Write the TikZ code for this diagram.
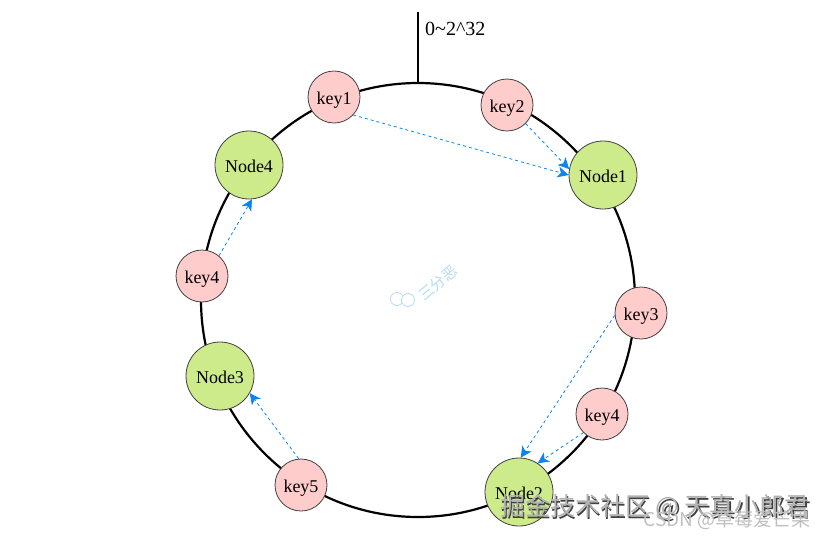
\documentclass[tikz,border=0pt]{standalone}
\usepackage{fontspec}
\setmainfont{Liberation Serif}
\newfontfamily\cjk{Noto Sans CJK SC}
\usetikzlibrary{arrows.meta}
\definecolor{keyred}{HTML}{FFCCCC}
\definecolor{nodegreen}{HTML}{CDEB8B}
\definecolor{linkblue}{HTML}{0A84F0}
\definecolor{markblue}{HTML}{B4DAF2}
\begin{document}
\begin{tikzpicture}[x=1pt, y=-1pt, ring/.style = {draw, circle, line width=2.2pt, inner sep=0pt, minimum size=434pt},
		key/.style = {draw=black!75, line width=0.8pt, circle, fill=keyred, inner sep=0pt, minimum size=52pt, text height=16pt, text depth=2pt, font=\fontsize{18}{18}\selectfont},
		server/.style = {draw=black!75, line width=0.8pt, circle, fill=nodegreen, inner sep=0pt, minimum size=68pt, text height=16pt, text depth=2pt, font=\fontsize{18}{18}\selectfont},
		link/.style = {draw=linkblue, dashed, thick, -{Stealth[length=11pt,width=11pt,inset=3pt]}},
		stamp/.style = {font=\cjk\fontsize{25}{25}\selectfont}]
		
		\useasboundingbox (0,0) rectangle (828,539);
		
		\node[ring] (ring) at (418,300) {};
		\coordinate (tick) at (418,12);
		\draw[line width=2.2pt] (tick) -- (ring.north);
		\node[anchor=west, inner sep=0pt, font=\fontsize{20}{20}\selectfont] (range) at (425,29) {0\textasciitilde2\textasciicircum32};
		
		\node[key] (key1) at (334,97) {key1};
		\node[key] (key2) at (507,105) {key2};
		\node[key] (key3) at (641,313) {key3};
		\node[key] (key4b) at (602,414) {key4};
		\node[key] (key5) at (301,485) {key5};
		\node[key] (key4) at (202,276) {key4};
		
		\node[server] (node1) at (603,175) {Node1};
		\node[server] (node2) at (519,492) {Node2};
		\node[server] (node3) at (220,376) {Node3};
		\node[server] (node4) at (249,165) {Node4};
		
		\draw[link] (key1.-43) -- (node1.180);
		\draw[link] (key2.-45) -- (node1.170);
		\draw[link] (key3.185) -- (node2.87);
		\draw[link] (key4b.-135) -- (node2.57);
		\draw[link] (key5.95) -- (node3.-30);
		\draw[link] (key4.50) -- (node4.-85);
		
		% watermarks
		\draw[markblue, line width=0.8pt] (397,299) circle (6.5pt);
		\draw[markblue, line width=0.8pt, fill=white] (408,300) circle (6.5pt);
		\node[rotate=40, text=markblue, font=\cjk\fontsize{15}{15}\selectfont] (wechat) at (438,283) {三分恶};
		\node[stamp, text=black!75] (juejin2) at (656.5,509) {掘金技术社区 @ 天真小郎君};
		\node[stamp, text=black!30] (juejin) at (655,507.5) {掘金技术社区 @ 天真小郎君};
		\node[text=black!25, font=\cjk\fontsize{19}{19}\selectfont] (csdn) at (727,520) {CSDN @草莓爱芒果};
	\end{tikzpicture}
\end{document}
